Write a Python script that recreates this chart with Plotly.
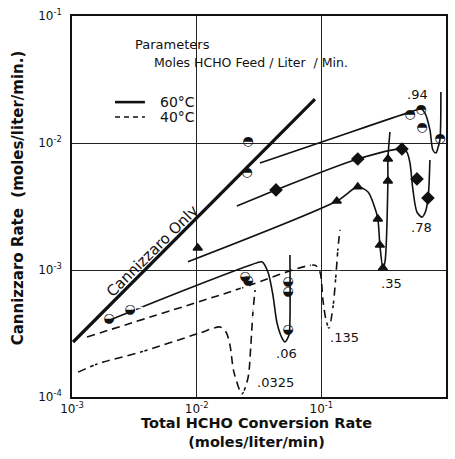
import plotly.graph_objects as go
import numpy as np

# ---------------- data ----------------
cann_x = [0.00102, 0.0889]
cann_y = [0.000271, 0.0222]

# 60 C, feed .94 (half-filled circles)
f94_line_x = [0.0322, 0.117, 0.514, 0.630, 0.678, 0.743, 0.785, 0.830, 0.861, 0.894, 0.910]
f94_line_y = [0.00696, 0.0107, 0.0175, 0.0185, 0.0172, 0.0127, 0.00881, 0.00834, 0.00914, 0.0106, 0.0252]
f94_pts_x = [0.0253, 0.0258, 0.514, 0.630, 0.641, 0.894]
f94_pts_y = [0.00580, 0.0102, 0.0166, 0.0182, 0.0131, 0.0109]

# 60 C, feed .78 (diamonds)
f78_line_x = [0.0210, 0.0433, 0.196, 0.443, 0.485, 0.514, 0.543, 0.585, 0.641, 0.678, 0.716, 0.743]
f78_line_y = [0.00319, 0.00427, 0.00748, 0.00897, 0.00849, 0.00696, 0.00427, 0.00286, 0.00261, 0.00281, 0.00356, 0.00735]
f78_pts_x = [0.0433, 0.196, 0.443, 0.585, 0.716]
f78_pts_y = [0.00427, 0.00748, 0.00897, 0.00521, 0.00369]

# 60 C, feed .35 (triangles)
f35_line_x = [0.00851, 0.133, 0.196, 0.237, 0.264, 0.284, 0.295, 0.312, 0.324, 0.342, 0.342, 0.355]
f35_line_y = [0.00116, 0.00349, 0.00451, 0.00411, 0.00325, 0.00252, 0.00157, 0.00104, 0.00116, 0.00502, 0.00748, 0.0122]
f35_pts_x = [0.0102, 0.133, 0.196, 0.284, 0.295, 0.312, 0.342, 0.342]
f35_pts_y = [0.00149, 0.00349, 0.00451, 0.00252, 0.00157, 0.00104, 0.00502, 0.00748]

# 60 C, feed .06 (lower-half-filled circles)
f06_line_x = [0.00184, 0.00883, 0.0305, 0.0334, 0.0373, 0.0409, 0.0441, 0.0483, 0.0511, 0.0550, 0.0560, 0.0560]
f06_line_y = [0.000390, 0.000722, 0.00114, 0.00116, 0.000965, 0.000635, 0.000383, 0.000292, 0.000271, 0.000308, 0.000404, 0.00131]
f06_pts_x = [0.00198, 0.00292, 0.0244, 0.0258, 0.0540, 0.0540, 0.0540]
f06_pts_y = [0.000411, 0.000484, 0.000881, 0.000819, 0.000805, 0.000671, 0.000337]

# 40 C, feed .135 (open squares)
f135_line_x = [0.00132, 0.0154, 0.0244, 0.0889, 0.0975, 0.103, 0.109, 0.115, 0.124, 0.131, 0.136, 0.141]
f135_line_y = [0.000297, 0.000635, 0.000735, 0.00109, 0.000965, 0.000580, 0.000404, 0.000349, 0.000512, 0.000914, 0.00149, 0.00207]
f135_pts_x = [0.00344, 0.0244, 0.0889, 0.109, 0.124, 0.131, 0.136]
f135_pts_y = [0.000476, 0.000735, 0.00109, 0.000383, 0.000502, 0.000914, 0.00149]

# 40 C, feed .0325 (open circles)
f0325_line_x = [0.00112, 0.00159, 0.00357, 0.0106, 0.0154, 0.0172, 0.0185, 0.0199, 0.0231, 0.0258, 0.0272, 0.0282, 0.0294]
f0325_line_y = [0.000157, 0.000182, 0.000226, 0.000319, 0.000356, 0.000325, 0.000256, 0.000157, 0.000106, 0.000141, 0.000256, 0.000451, 0.000696]
f0325_pts_x = [0.00159, 0.00357, 0.00851, 0.0231, 0.0282, 0.0334, 0.0294]
f0325_pts_y = [0.000182, 0.000226, 0.000819, 0.000106, 0.000451, 0.000521, 0.000696]

# curve labels (feed rates)
label_text = [".94", ".78", ".35", ".135", ".06", ".0325"]
label_x = [0.596, 0.641, 0.368, 0.152, 0.0530, 0.0425]
label_y = [0.0243, 0.00218, 0.000790, 0.000292, 0.000222, 0.000131]

x_tickvals = [0.001, 0.01, 0.1, 1.0]
x_ticktext = ["10<sup>-3</sup>", "10<sup>-2</sup>", "10<sup>-1</sup>", "1.0"]
y_tickvals = [0.0001, 0.001, 0.01, 0.1]
y_ticktext = ["10<sup>-4</sup>", "10<sup>-3</sup>", "10<sup>-2</sup>", "10<sup>-1</sup>"]

FONT = "DejaVu Sans"
BLACK = "#111111"

fig = go.Figure()

def line(x, y, dash="solid", width=1.6, shape="spline"):
    fig.add_trace(go.Scatter(x=x, y=y, mode="lines", showlegend=False, hoverinfo="skip",
                             line=dict(color=BLACK, width=width, dash=dash, shape=shape,
                                       smoothing=0.8 if shape == "spline" else None)))

def pts(x, y, symbol, size, fill=True):
    fig.add_trace(go.Scatter(x=x, y=y, mode="markers", showlegend=False, hoverinfo="skip",
                             marker=dict(symbol=symbol, size=size,
                                         color=BLACK if fill else "white",
                                         line=dict(color=BLACK, width=1.4))))

def glyphs(x, y, ch, size=13):
    fig.add_trace(go.Scatter(x=x, y=y, mode="text", text=[ch] * len(x), showlegend=False,
                             hoverinfo="skip", textposition="middle center",
                             textfont=dict(family=FONT, size=size, color=BLACK)))

line(cann_x, cann_y, width=3.2, shape="linear")
line(f94_line_x, f94_line_y)
line(f78_line_x, f78_line_y)
line(f35_line_x, f35_line_y)
line(f06_line_x, f06_line_y)
line(f135_line_x, f135_line_y, dash="8px,5px")
line(f0325_line_x, f0325_line_y, dash="8px,5px")

pts(f78_pts_x, f78_pts_y, "diamond", 9)
pts(f35_pts_x, f35_pts_y, "triangle-up", 8)
pts(f135_pts_x, f135_pts_y, "square-open", 7, fill=False)
pts(f0325_pts_x, f0325_pts_y, "circle-open", 6, fill=False)
glyphs(f94_pts_x, f94_pts_y, "◓")
glyphs(f06_pts_x, f06_pts_y, "◒")

def ann(x, y, text, size, ref="paper", xanchor="center", angle=0, weight="normal"):
    return dict(x=x, y=y, xref="x" if ref == "data" else "paper",
                yref="y" if ref == "data" else "paper", text=text, showarrow=False,
                xanchor=xanchor, yanchor="middle", textangle=angle,
                font=dict(family=FONT, size=size, color=BLACK, weight=weight))

annotations = []
for t, x, y in zip(label_text, label_x, label_y):
    annotations.append(ann(np.log10(x), np.log10(y), t, 13, ref="data"))

annotations.append(ann(np.log10(0.00440), np.log10(0.00142), "Cannizzaro Only", 15,
                       ref="data", angle=-45))

# header and legend (paper coords)
annotations += [
    ann(0.163, 0.924, "Parameters", 13, xanchor="left"),
    ann(0.214, 0.877, "Moles HCHO Feed / Liter  / Min.", 12.5, xanchor="left"),
    ann(0.230, 0.774, "60°C", 14, xanchor="left"),
    ann(0.230, 0.735, "40°C", 14, xanchor="left"),
    ann(0.494, -0.093, "Total HCHO Conversion Rate<br>(moles/liter/min)", 14.5, weight="bold"),
    ann(-0.144, 0.522, "Cannizzaro Rate  (moles/liter/min.)", 15, angle=-90, weight="bold"),
]

shapes = [
    dict(type="line", xref="paper", yref="paper", x0=0.115, x1=0.195, y0=0.774, y1=0.774,
         line=dict(color=BLACK, width=2.6)),
    dict(type="line", xref="paper", yref="paper", x0=0.115, x1=0.195, y0=0.735, y1=0.735,
         line=dict(color=BLACK, width=1.6, dash="5px,4px")),
]

axis_common = dict(type="log", showgrid=True, gridcolor="#222222", gridwidth=1,
                   showline=True, linecolor=BLACK, linewidth=1.6, mirror=True,
                   ticks="", zeroline=False,
                   tickfont=dict(family=FONT, size=12, color=BLACK))

fig.update_layout(
    width=455, height=459,
    margin=dict(l=72, r=9, t=16, b=62, autoexpand=False),
    paper_bgcolor="white", plot_bgcolor="white",
    xaxis=dict(range=[-3, 0], tickvals=x_tickvals, ticktext=x_ticktext, **axis_common),
    yaxis=dict(range=[-4, -1], tickvals=y_tickvals, ticktext=y_ticktext,
               ticklabelstandoff=6, **axis_common),
    annotations=annotations, shapes=shapes, showlegend=False,
)

fig.write_html("out.html")
